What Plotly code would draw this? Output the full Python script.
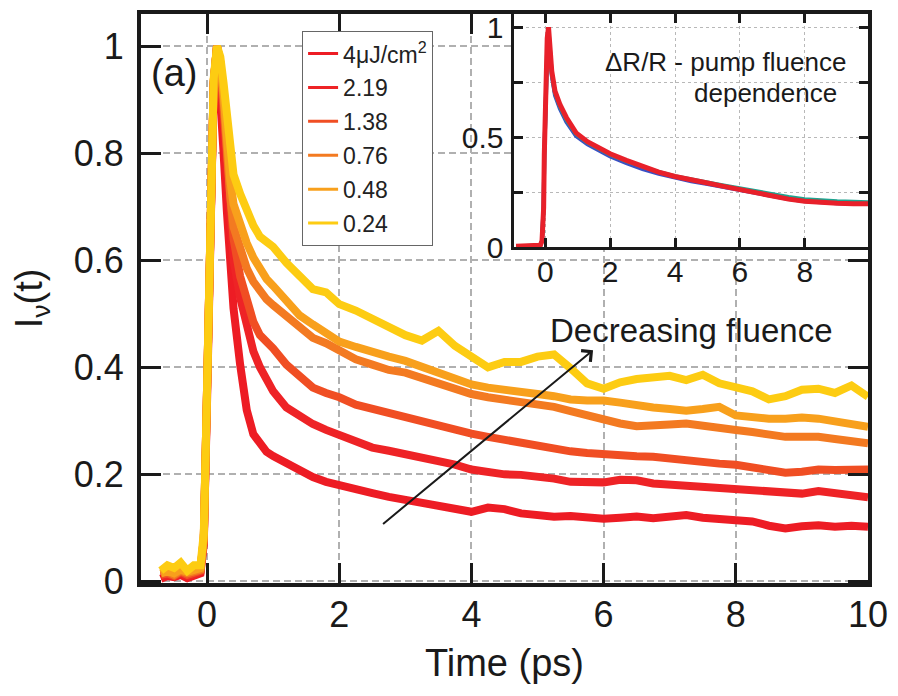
import plotly.graph_objects as go

# ---------------- main panel data ----------------
time_ps = [-0.7, -0.6, -0.5, -0.4, -0.3, -0.2, -0.1, -0.05, 0.0, 0.05, 0.1, 0.15, 0.2, 0.25,
           0.3, 0.35, 0.4, 0.5, 0.6, 0.7, 0.8, 0.9, 1.0, 1.2, 1.4, 1.6, 1.8, 2.0, 2.25, 2.5,
           2.75, 3.0, 3.25, 3.5, 3.75, 4.0, 4.25, 4.5, 4.75, 5.0, 5.25, 5.5, 5.75, 6.0, 6.25,
           6.5, 6.75, 7.0, 7.25, 7.5, 7.75, 8.0, 8.25, 8.5, 8.75, 9.0, 9.25, 9.5, 9.75, 10.0]

I_4p00 = [0.005, 0.01, 0.008, 0.012, 0.006, 0.01, 0.015, 0.07, 0.34, 0.70, 0.93, 1.0, 0.92, 0.80,
          0.69, 0.60, 0.51, 0.405, 0.32, 0.275, 0.255, 0.242, 0.234, 0.22, 0.21, 0.195, 0.186, 0.179,
          0.172, 0.165, 0.158, 0.152, 0.147, 0.14, 0.134, 0.130, 0.138, 0.135, 0.127, 0.124, 0.121,
          0.122, 0.119, 0.117, 0.119, 0.121, 0.118, 0.122, 0.124, 0.119, 0.117, 0.114, 0.112, 0.104,
          0.099, 0.103, 0.105, 0.102, 0.104, 0.102]
I_2p19 = [0.01, 0.012, 0.009, 0.015, 0.01, 0.012, 0.018, 0.075, 0.34, 0.70, 0.93, 1.0, 0.95, 0.86,
          0.76, 0.68, 0.60, 0.53, 0.475, 0.43, 0.40, 0.375, 0.355, 0.325, 0.308, 0.294, 0.283, 0.274,
          0.259, 0.25, 0.244, 0.238, 0.233, 0.226, 0.218, 0.209, 0.204, 0.200, 0.199, 0.197, 0.192,
          0.186, 0.184, 0.185, 0.19, 0.189, 0.183, 0.181, 0.179, 0.177, 0.175, 0.172, 0.17, 0.168,
          0.166, 0.164, 0.169, 0.166, 0.16, 0.157]
I_1p38 = [0.012, 0.015, 0.01, 0.018, 0.012, 0.015, 0.02, 0.08, 0.35, 0.71, 0.935, 1.0, 0.96, 0.88,
          0.78, 0.70, 0.64, 0.57, 0.52, 0.485, 0.46, 0.448, 0.435, 0.405, 0.381, 0.362, 0.352, 0.344,
          0.33, 0.322, 0.313, 0.306, 0.298, 0.292, 0.283, 0.276, 0.27, 0.264, 0.258, 0.252, 0.248,
          0.243, 0.24, 0.237, 0.236, 0.234, 0.233, 0.229, 0.227, 0.223, 0.22, 0.218, 0.213, 0.207,
          0.203, 0.205, 0.209, 0.208, 0.21, 0.209]
I_0p76 = [0.015, 0.018, 0.012, 0.02, 0.015, 0.018, 0.022, 0.08, 0.35, 0.71, 0.935, 1.0, 0.97, 0.90,
          0.80, 0.72, 0.662, 0.62, 0.585, 0.56, 0.54, 0.527, 0.516, 0.495, 0.475, 0.455, 0.445, 0.43,
          0.415, 0.405, 0.395, 0.39, 0.38, 0.372, 0.36, 0.35, 0.344, 0.34, 0.335, 0.331, 0.326,
          0.318, 0.31, 0.301, 0.295, 0.29, 0.29, 0.293, 0.295, 0.29, 0.288, 0.283, 0.279, 0.274,
          0.27, 0.27, 0.27, 0.266, 0.262, 0.258]
I_0p48 = [0.015, 0.02, 0.015, 0.022, 0.018, 0.02, 0.025, 0.08, 0.35, 0.71, 0.935, 1.0, 0.97, 0.91,
          0.82, 0.75, 0.705, 0.665, 0.632, 0.605, 0.583, 0.565, 0.552, 0.525, 0.497, 0.48, 0.465,
          0.448, 0.438, 0.428, 0.42, 0.412, 0.40, 0.39, 0.38, 0.368, 0.362, 0.359, 0.356, 0.35,
          0.346, 0.34, 0.338, 0.338, 0.334, 0.328, 0.325, 0.322, 0.319, 0.322, 0.326, 0.31, 0.306,
          0.304, 0.304, 0.306, 0.304, 0.30, 0.296, 0.289]
I_0p24 = [0.02, 0.03, 0.025, 0.035, 0.02, 0.03, 0.03, 0.09, 0.36, 0.72, 0.94, 1.0, 0.98, 0.93,
          0.86, 0.80, 0.76, 0.724, 0.69, 0.665, 0.644, 0.636, 0.625, 0.595, 0.57, 0.546, 0.54, 0.518,
          0.506, 0.49, 0.478, 0.46, 0.45, 0.468, 0.44, 0.42, 0.40, 0.41, 0.41, 0.42, 0.424, 0.398,
          0.37, 0.36, 0.372, 0.378, 0.382, 0.384, 0.376, 0.386, 0.37, 0.362, 0.355, 0.34, 0.346,
          0.358, 0.36, 0.352, 0.366, 0.345]

series = [I_4p00, I_2p19, I_1p38, I_0p76, I_0p48, I_0p24]
fluence_labels = ["4μJ/cm<sup>2</sup>", "2.19", "1.38", "0.76", "0.48", "0.24"]
colors = ["#ED1C24", "#EE2326", "#F04E23", "#F37A21", "#F8A01C", "#FDCC12"]

x_ticks = [0, 2, 4, 6, 8, 10]
y_ticks = [0, 0.2, 0.4, 0.6, 0.8, 1.0]
y_ticktext = ["0", "0.2", "0.4", "0.6", "0.8", "1"]

# ---------------- inset data ----------------
inset_time = [-0.9, -0.6, -0.3, -0.15, -0.1, -0.05, -0.03, 0.0, 0.03, 0.06, 0.1, 0.15, 0.2, 0.3,
              0.45, 0.65, 0.95, 1.3, 1.6, 2.0, 2.5, 3.0, 3.5, 4.0, 4.5, 5.0, 5.5, 6.0, 6.5, 7.0,
              7.5, 8.0, 8.5, 9.0, 9.5, 9.95]
dR_blue = [0.004, 0.004, 0.005, 0.008, 0.03, 0.2, 0.42, 0.6, 0.78, 0.88, 0.98, 0.88, 0.78, 0.69,
           0.63, 0.57, 0.505, 0.468, 0.443, 0.413, 0.383, 0.356, 0.334, 0.315, 0.30, 0.288, 0.274,
           0.26, 0.245, 0.231, 0.219, 0.209, 0.203, 0.20, 0.198, 0.198]
dR_teal = [0.004, 0.005, 0.005, 0.009, 0.03, 0.19, 0.41, 0.61, 0.79, 0.92, 0.99, 0.89, 0.79, 0.70,
           0.64, 0.58, 0.515, 0.476, 0.452, 0.421, 0.392, 0.365, 0.342, 0.323, 0.307, 0.295, 0.281,
           0.267, 0.253, 0.24, 0.229, 0.219, 0.213, 0.209, 0.207, 0.205]
dR_red = [0.005, 0.005, 0.006, 0.01, 0.03, 0.18, 0.42, 0.62, 0.80, 0.95, 1.0, 0.90, 0.80, 0.71,
          0.65, 0.59, 0.52, 0.48, 0.455, 0.425, 0.395, 0.366, 0.342, 0.322, 0.305, 0.292, 0.277,
          0.262, 0.247, 0.232, 0.219, 0.209, 0.203, 0.20, 0.198, 0.198]
inset_series = [dR_blue, dR_teal, dR_red]
inset_colors = ["#3A4FC4", "#1FA38F", "#E8202A"]
inset_widths = [4, 4, 5]
inset_x_ticks = [0, 2, 4, 6, 8]
inset_y_ticks = [0, 0.5, 1.0]
inset_y_ticktext = ["0", "0.5", "1"]
inset_y_minor = [0.25, 0.75]

FONT = "Liberation Sans, Arial, Helvetica, sans-serif"
INK = "#1a1a1a"

fig = go.Figure()

for vals, name, col in zip(series, fluence_labels, colors):
    fig.add_trace(go.Scatter(x=time_ps, y=vals, mode="lines", name=name,
                             line=dict(color=col, width=8), showlegend=False,
                             xaxis="x", yaxis="y"))

# legend entries (thin sample lines)
for name, col in zip(fluence_labels, colors):
    fig.add_trace(go.Scatter(x=[None], y=[None], mode="lines", name=name,
                             line=dict(color=col, width=3), legendgroup=name,
                             showlegend=True, xaxis="x", yaxis="y"))

for vals, col, w in zip(inset_series, inset_colors, inset_widths):
    fig.add_trace(go.Scatter(x=inset_time, y=vals, mode="lines",
                             line=dict(color=col, width=w),
                             showlegend=False, xaxis="x2", yaxis="y2"))

axis_common = dict(ticks="inside", showline=True, linecolor=INK, tickcolor=INK,
                   mirror="ticks", zeroline=False, showgrid=True)

fig.update_layout(
    width=898, height=696,
    margin=dict(l=141, r=25, t=10, b=113),
    paper_bgcolor="white", plot_bgcolor="white",
    font=dict(family=FONT, color=INK),
    xaxis=dict(domain=[0, 1], range=[-1, 10], tickvals=x_ticks, ticklen=20, tickwidth=3,
               linewidth=4, gridcolor="#b0b0b0", gridwidth=1.5, griddash="7px,4px",
               tickfont=dict(size=36), ticklabelstandoff=-3,
               title=dict(text="Time (ps)", font=dict(size=38), standoff=16), **axis_common),
    yaxis=dict(domain=[0, 1], range=[-0.003, 1.06], tickvals=y_ticks, ticktext=y_ticktext,
               ticklen=20, tickwidth=3, linewidth=4, gridcolor="#b0b0b0", gridwidth=1.5,
               griddash="7px,4px", tickfont=dict(size=36), ticklabelstandoff=6,
               title=dict(text="I<sub>ν</sub>(t)", font=dict(size=38), standoff=20),
               **axis_common),
    xaxis2=dict(domain=[0.5137, 1], anchor="y2", range=[-0.95, 9.95], tickvals=inset_x_ticks,
                ticklen=9, tickwidth=2.5, linewidth=3, gridcolor="#b8b8b8", gridwidth=1.2,
                griddash="3px,3px", tickfont=dict(size=30), ticklabelstandoff=-4,
                **axis_common),
    yaxis2=dict(domain=[0.5899, 1], anchor="x2", range=[0, 1.06], tickvals=inset_y_ticks,
                ticktext=inset_y_ticktext, ticklen=9, tickwidth=2.5, linewidth=3,
                gridcolor="#b8b8b8", gridwidth=1.2, griddash="3px,3px",
                minor=dict(tickvals=inset_y_minor, ticks="inside", ticklen=9, tickwidth=2.5,
                           tickcolor=INK, showgrid=True, gridcolor="#b8b8b8", gridwidth=1.2,
                           griddash="3px,3px"),
                tickfont=dict(size=30), ticklabelstandoff=2, **axis_common),
    legend=dict(x=0.2213, y=0.9703, xanchor="left", yanchor="top", bgcolor="white",
                bordercolor="#666666", borderwidth=1.2, font=dict(size=23, color="#222"),
                tracegroupgap=1, itemwidth=30),
    shapes=[dict(type="rect", xref="x2 domain", yref="y2 domain", x0=0, x1=1, y0=0, y1=1,
                 fillcolor="white", line=dict(width=0), layer="below")],
    annotations=[
        dict(text="(a)", x=-0.5, y=0.95, xref="x", yref="y", showarrow=False,
             font=dict(size=38, color=INK)),
        dict(text="Decreasing fluence", x=7.33, y=0.469, xref="x", yref="y", showarrow=False,
             font=dict(size=33, color=INK)),
        dict(text="", x=5.84, y=0.432, ax=2.64, ay=0.105, xref="x", yref="y", axref="x",
             ayref="y", showarrow=True, arrowhead=4, arrowsize=1.4, arrowwidth=2,
             arrowcolor=INK, standoff=0, startstandoff=0),
        dict(text="ΔR/R - pump fluence", x=5.57, y=0.84, xref="x2", yref="y2",
             showarrow=False, font=dict(size=26, color=INK)),
        dict(text="dependence", x=6.79, y=0.70, xref="x2", yref="y2",
             showarrow=False, font=dict(size=26, color=INK)),
    ],
)

fig.write_html("out.html")
